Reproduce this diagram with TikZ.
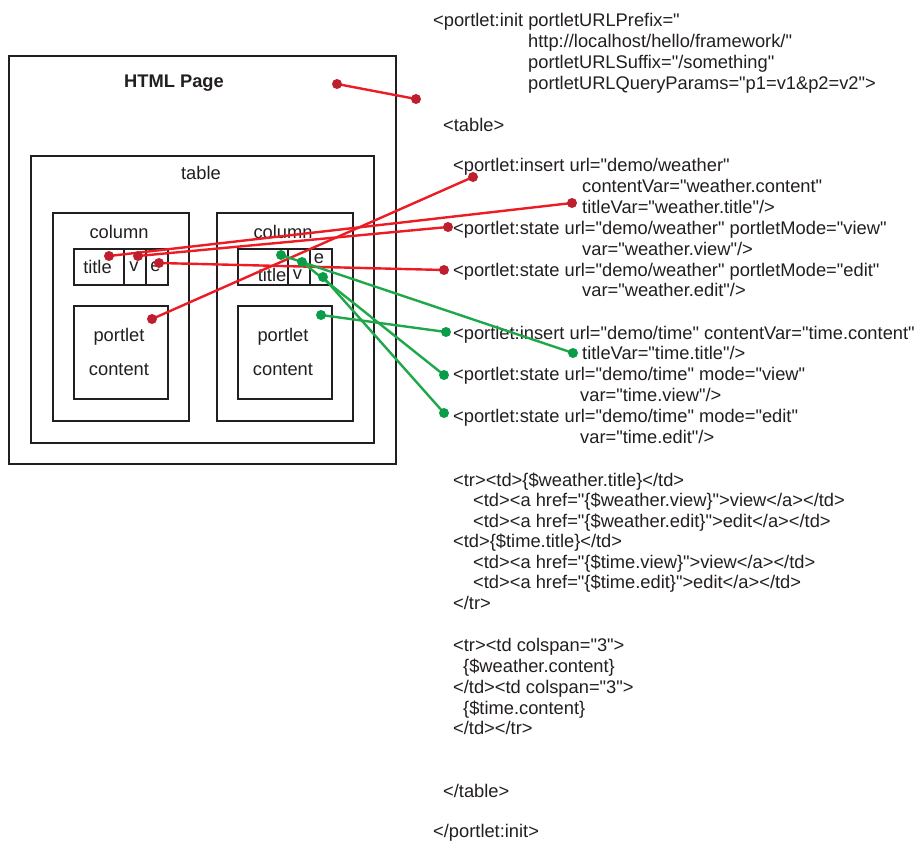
\documentclass[tikz,border=0pt]{standalone}
\usepackage{fontspec}
\newfontfamily\arialf{Liberation Sans}
\setmainfont{Liberation Sans}
\usetikzlibrary{backgrounds}
\pgfdeclarelayer{fg}
\pgfsetlayers{main,fg}
\definecolor{ink}{HTML}{231F20}
\definecolor{rline}{HTML}{ED1C24}
\definecolor{rdotc}{HTML}{BE1E2D}
\definecolor{gline}{HTML}{1FA84A}
\definecolor{gdotc}{HTML}{0A9D48}
\tikzset{
  box/.style={draw=ink, line width=2pt, inner sep=0pt, anchor=north west},
  lbl/.style={text=ink, inner sep=0pt, font=\arialf\fontsize{18.3}{21}\selectfont},
  code/.style={lbl, anchor=base west},
  rdot/.style={circle, fill=rdotc, minimum size=10pt, inner sep=0pt},
  gdot/.style={circle, fill=gdotc, minimum size=10pt, inner sep=0pt},
  redc/.style={draw=rline, line width=2.4pt},
  grnc/.style={draw=gline, line width=2.4pt},
}
\begin{document}
\begin{tikzpicture}[x=1pt,y=-1pt]
\useasboundingbox[fill=white] (0,0) rectangle (922,842);
% boxes
\node[box, minimum width=387, minimum height=408] (page) at (8,55) {};
\node[box, minimum width=343, minimum height=287] (table) at (30,155) {};
\node[box, minimum width=136, minimum height=208] (colL) at (52,212) {};
\node[box, minimum width=136, minimum height=208] (colR) at (216,212) {};
\node[box, minimum width=50, minimum height=36] (tL) at (73,248) {};
\node[box, minimum width=22, minimum height=36] (vL) at (123,248) {};
\node[box, minimum width=22, minimum height=36] (eL) at (145,248) {};
\node[box, minimum width=94, minimum height=93] (pcL) at (73,305) {};
\node[box, minimum width=50, minimum height=36] (tR) at (237,248) {};
\node[box, minimum width=22, minimum height=36] (vR) at (287,248) {};
\node[box, minimum width=22, minimum height=36] (eR) at (309,248) {};
\node[box, minimum width=94, minimum height=93] (pcR) at (237,305) {};
% box labels
\node[lbl, font=\arialf\fontsize{18.3}{21}\selectfont\bfseries] (htmlt) at (174,83) {HTML Page};
\node[lbl] (tablet) at (201,173) {table};
\node[lbl] (colLt) at (119,232) {column};
\node[lbl] (colRt) at (283,232) {column};
\node[lbl] (tLt) at (97.5,267) {title};
\node[lbl] (vLt) at (134,267) {v};
\node[lbl] (eLt) at (155.5,267) {e};
\node[lbl] (tRt) at (272,275) {title};
\node[lbl] (vRt) at (297.5,275) {v};
\node[lbl] (eRt) at (319,259) {e};
\node[lbl] (pcL1) at (119,337) {portlet};
\node[lbl] (pcL2) at (119,370) {content};
\node[lbl] (pcR1) at (283,337) {portlet};
\node[lbl] (pcR2) at (283,370) {content};
% code text
\node[code] (c1) at (433,27) {<portlet:init portletURLPrefix="};
\node[code] (c2) at (528,48) {http://localhost/hello/framework/"};
\node[code] (c3) at (528,69) {portletURLSuffix="/something"};
\node[code] (c4) at (528,90) {portletURLQueryParams="p1=v1\&p2=v2">};
\node[code] (c5) at (443,131.5) {<table>};
\node[code] (c6) at (453,171.5) {<portlet:insert url="demo/weather"};
\node[code] (c7) at (582,192.5) {contentVar="weather.content"};
\node[code] (c8) at (582,213.3) {titleVar="weather.title"/>};
\node[code] (c9) at (453,234.3) {<portlet:state url="demo/weather" portletMode="view"};
\node[code] (c10) at (582,255.1) {var="weather.view"/>};
\node[code] (c11) at (453,276.2) {<portlet:state url="demo/weather" portletMode="edit"};
\node[code] (c12) at (582,297) {var="weather.edit"/>};
\node[code] (c13) at (453,339.3) {<portlet:insert url="demo/time" contentVar="time.content"};
\node[code] (c14) at (582,359.8) {titleVar="time.title"/>};
\node[code] (c15) at (453,380.7) {<portlet:state url="demo/time" mode="view"};
\node[code] (c16) at (580,401.5) {var="time.view"/>};
\node[code] (c17) at (453,422.5) {<portlet:state url="demo/time" mode="edit"};
\node[code] (c18) at (580,443.3) {var="time.edit"/>};
\node[code] (c19) at (453,486.5) {<tr><td>\{\$weather.title\}</td>};
\node[code] (c20) at (473,506.8) {<td><a href="\{\$weather.view\}">view</a></td>};
\node[code] (c21) at (473,527) {<td><a href="\{\$weather.edit\}">edit</a></td>};
\node[code] (c22) at (453,547.5) {<td>\{\$time.title\}</td>};
\node[code] (c23) at (473,568) {<td><a href="\{\$time.view\}">view</a></td>};
\node[code] (c24) at (473,588.5) {<td><a href="\{\$time.edit\}">edit</a></td>};
\node[code] (c25) at (453,609) {</tr>};
\node[code] (c26) at (453,651.5) {<tr><td colspan="3">};
\node[code] (c27) at (463,672.5) {\{\$weather.content\}};
\node[code] (c28) at (453,693.3) {</td><td colspan="3">};
\node[code] (c29) at (463,714) {\{\$time.content\}};
\node[code] (c30) at (453,734.5) {</td></tr>};
\node[code] (c31) at (443,797) {</table>};
\node[code] (c32) at (433,837) {</portlet:init>};
% dots
\begin{pgfonlayer}{fg}
\node[rdot] (rh1) at (337,84) {};
\node[rdot] (rh2) at (416,99) {};
\node[rdot] (rtl) at (109,256) {};
\node[rdot] (rvl) at (138,256) {};
\node[rdot] (rel) at (159,263) {};
\node[rdot] (rpl) at (152,319) {};
\node[rdot] (rins) at (473,177) {};
\node[rdot] (rtv) at (572,203) {};
\node[rdot] (rsv) at (448,227) {};
\node[rdot] (rse) at (444,270) {};
\node[gdot] (gtr) at (281,255) {};
\node[gdot] (gvr) at (302,262) {};
\node[gdot] (ger) at (323,277) {};
\node[gdot] (gpr) at (321,315) {};
\node[gdot] (gins) at (446,332) {};
\node[gdot] (gtv) at (573,353) {};
\node[gdot] (gsv) at (444,375) {};
\node[gdot] (gse) at (444,413) {};
\end{pgfonlayer}
% connectors
\draw[redc] (rh1.center) -- (rh2.center);
\draw[redc] (rtl.center) -- (rtv.center);
\draw[redc] (rvl.center) -- (rsv.center);
\draw[redc] (rel.center) -- (rse.center);
\draw[redc] (rpl.center) -- (rins.center);
\draw[grnc] (gtr.center) -- (gtv.center);
\draw[grnc] (gvr.center) -- (gsv.center);
\draw[grnc] (ger.center) -- (gse.center);
\draw[grnc] (gpr.center) -- (gins.center);
\end{tikzpicture}
\end{document}
